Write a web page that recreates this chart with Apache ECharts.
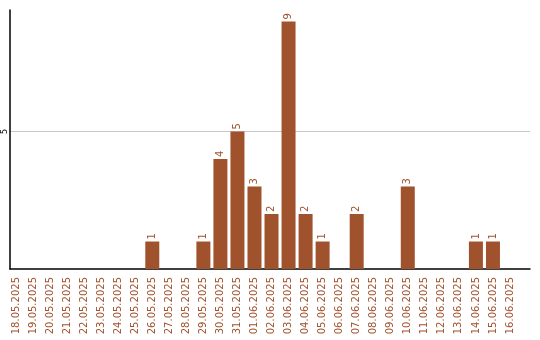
<!DOCTYPE html>
<html><head><meta charset="utf-8">
<script src="https://cdn.jsdelivr.net/npm/echarts@6/dist/echarts.min.js"></script>
<style>html,body{margin:0;padding:0;background:#fff}#c{width:540px;height:340px}</style>
</head><body><div id="c"></div>
<script>
const categories = ["18.05.2025","19.05.2025","20.05.2025","21.05.2025","22.05.2025","23.05.2025","24.05.2025","25.05.2025","26.05.2025","27.05.2025","28.05.2025","29.05.2025","30.05.2025","31.05.2025","01.06.2025","02.06.2025","03.06.2025","04.06.2025","05.06.2025","06.06.2025","07.06.2025","08.06.2025","09.06.2025","10.06.2025","11.06.2025","12.06.2025","13.06.2025","14.06.2025","15.06.2025","16.06.2025"];
const values = [null,null,null,null,null,null,null,null,1,null,null,1,4,5,3,2,9,2,1,null,2,null,null,3,null,null,null,1,1,null];
const yMax = 9.42;
const brown = '#a0522d';
const chart = echarts.init(document.getElementById('c'), null, {renderer:'canvas'});
chart.setOption({
  animation:false,
  grid:[
    {left:7.5, right:21.5, top:10, bottom:71},
    {left:10, right:10, top:10, bottom:71}
  ],
  xAxis:[
    {type:'category', gridIndex:0, data:categories,
     axisLine:{show:false}, axisTick:{show:false},
     axisLabel:{rotate:90, interval:0, color:brown, fontFamily:'DejaVu Sans', fontSize:10, margin:8}},
    {type:'value', gridIndex:1, min:0, max:1,
     axisLine:{show:true, lineStyle:{color:'#000', width:1.5}}, axisTick:{show:false},
     axisLabel:{show:false}, splitLine:{show:false}}
  ],
  yAxis:[
    {type:'value', gridIndex:0, min:0, max:yMax, show:false, splitLine:{show:false}},
    {type:'value', gridIndex:1, min:0, max:yMax, interval:5,
     axisLine:{show:true, lineStyle:{color:'#000', width:1.5}}, axisTick:{show:false},
     splitLine:{show:true, showMinLine:false, showMaxLine:false, lineStyle:{color:'#c8c8c8', width:1}},
     axisLabel:{rotate:90, color:'#000', fontSize:8, fontFamily:'DejaVu Sans', margin:1, showMinLabel:false, showMaxLabel:false,
       formatter: v => (v === 5 ? '5' : '')}}
  ],
  series:[{
    type:'bar', xAxisIndex:0, yAxisIndex:0, data:values, barWidth:14,
    itemStyle:{color:brown},
    label:{show:true, position:'top', rotate:90, align:'left', verticalAlign:'middle', distance:2,
      color:brown, fontFamily:'DejaVu Sans', fontSize:10}
  }]
});
</script></body></html>
